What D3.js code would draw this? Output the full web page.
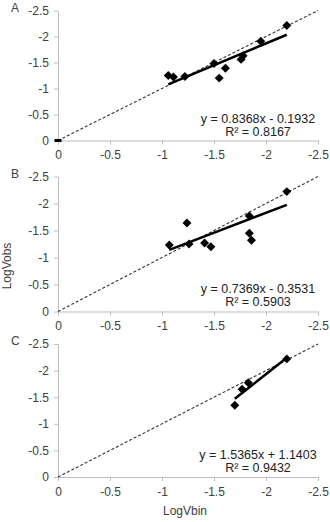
<!DOCTYPE html>
<html>
<head>
<meta charset="utf-8">
<script src="https://d3js.org/d3.v7.min.js"></script>
<style>
  html, body { margin: 0; padding: 0; background: #fff; }
  text { font-family: "Liberation Sans", Arial, sans-serif; }
</style>
</head>
<body>
<svg id="chart" width="330" height="522"></svg>
<script>
// values
const panelNames = ["A", "B", "C"];
const axisTicks = [0, -0.5, -1, -1.5, -2, -2.5];

const aX = [-1.06, -1.11, -1.22, -1.50, -1.55, -1.61, -1.76, -1.78, -1.95, -2.20];
const aY = [-1.25, -1.22, -1.23, -1.48, -1.20, -1.39, -1.56, -1.63, -1.91, -2.21];
const bX = [-1.07, -1.24, -1.26, -1.41, -1.47, -1.84, -1.84, -1.86, -2.20];
const bY = [-1.23, -1.64, -1.25, -1.27, -1.20, -1.77, -1.45, -1.32, -2.22];
const cX = [-1.70, -1.77, -1.83, -2.20];
const cY = [-1.35, -1.65, -1.77, -2.22];

const slopes = [0.8368, 0.7369, 1.5365];
const intercepts = [-0.1932, -0.3531, 1.1403];
const equations = ["y = 0.8368x - 0.1932", "y = 0.7369x - 0.3531", "y = 1.5365x + 1.1403"];
const rSquared = ["R² = 0.8167", "R² = 0.5903", "R² = 0.9432"];

const xTitle = "LogVbin";
const yTitle = "LogVobs";

const panelX = [aX, bX, cX];
const panelY = [aY, bY, cY];

// layout
const svg = d3.select("#chart");
const left = 58, right = 318;
const panelTop = [10.5, 176.5, 344];
const panelBottom = [140.5, 311.5, 477];
const axisColor = "#bdbdbd";
const textColor = "#404040";

const x = d3.scaleLinear().domain([0, -2.5]).range([left, right]);
const tickText = d => String(d); // plain hyphen, like the original

function drawPanel(i) {
  const y = d3.scaleLinear().domain([0, -2.5]).range([panelBottom[i], panelTop[i]]);
  const g = svg.append("g");

  // y axis
  const yAxis = g.append("g")
    .attr("transform", `translate(${left},0)`)
    .call(d3.axisLeft(y).tickValues(axisTicks).tickSize(4).tickSizeOuter(0).tickPadding(5).tickFormat(tickText));
  yAxis.selectAll("path, line").attr("stroke", axisColor);
  yAxis.selectAll("text").attr("fill", textColor).style("font-size", "12px")
    .style("font-family", "'Liberation Sans', Arial, sans-serif");

  // x axis
  const xAxis = g.append("g")
    .attr("transform", `translate(0,${y(0)})`)
    .call(d3.axisBottom(x).tickValues(axisTicks).tickSize(4).tickSizeOuter(0).tickPadding(6).tickFormat(tickText));
  xAxis.selectAll("path, line").attr("stroke", axisColor);
  xAxis.selectAll("text").attr("fill", textColor).style("font-size", "12px")
    .style("font-family", "'Liberation Sans', Arial, sans-serif");

  // 1:1 line
  g.append("line")
    .attr("x1", x(0)).attr("y1", y(0))
    .attr("x2", x(-2.5)).attr("y2", y(-2.5))
    .attr("stroke", "#333").attr("stroke-width", 1.1)
    .attr("stroke-dasharray", "3,2");

  // points
  const xs = panelX[i], ys = panelY[i];
  const pts = xs.map((v, k) => [v, ys[k]]);
  const diamond = d3.symbol().type(d3.symbolSquare).size(40);
  g.selectAll("path.pt").data(pts).enter().append("path")
    .attr("class", "pt")
    .attr("d", diamond)
    .attr("transform", d => `translate(${x(d[0])},${y(d[1])}) rotate(45)`)
    .attr("fill", "#000");

  // trend line over the data range
  const x0 = d3.max(xs), x1 = d3.min(xs);
  g.append("line")
    .attr("x1", x(x0)).attr("y1", y(slopes[i] * x0 + intercepts[i]))
    .attr("x2", x(x1)).attr("y2", y(slopes[i] * x1 + intercepts[i]))
    .attr("stroke", "#000").attr("stroke-width", 2.5);

  // panel A has a marker sitting on the origin
  if (i === 0) {
    g.append("rect")
      .attr("x", x(0) - 3.5).attr("y", y(0) - 1.5)
      .attr("width", 7).attr("height", 3)
      .attr("fill", "#000");
  }

  // equation
  const eqX = 258;
  g.append("text")
    .attr("x", eqX).attr("y", y(-0.5) + 5)
    .attr("text-anchor", "middle").attr("dominant-baseline", "middle")
    .attr("fill", "#222").style("font-size", "12.5px")
    .text(equations[i]);
  g.append("text")
    .attr("x", eqX).attr("y", y(-0.5) + 18)
    .attr("text-anchor", "middle").attr("dominant-baseline", "middle")
    .attr("fill", "#222").style("font-size", "12.5px")
    .text(rSquared[i]);

  // panel letter
  g.append("text")
    .attr("x", 11).attr("y", panelTop[i] - 2)
    .attr("dominant-baseline", "middle")
    .attr("fill", textColor).style("font-size", "12px")
    .text(panelNames[i]);
}

panelNames.forEach((_, i) => drawPanel(i));

svg.append("text")
  .attr("x", 185).attr("y", 512)
  .attr("text-anchor", "middle").attr("dominant-baseline", "middle")
  .attr("fill", textColor).style("font-size", "12px")
  .text(xTitle);

svg.append("text")
  .attr("transform", "translate(8,266) rotate(-90)")
  .attr("text-anchor", "middle").attr("dominant-baseline", "middle")
  .attr("fill", textColor).style("font-size", "12px")
  .text(yTitle);
</script>
</body>
</html>
